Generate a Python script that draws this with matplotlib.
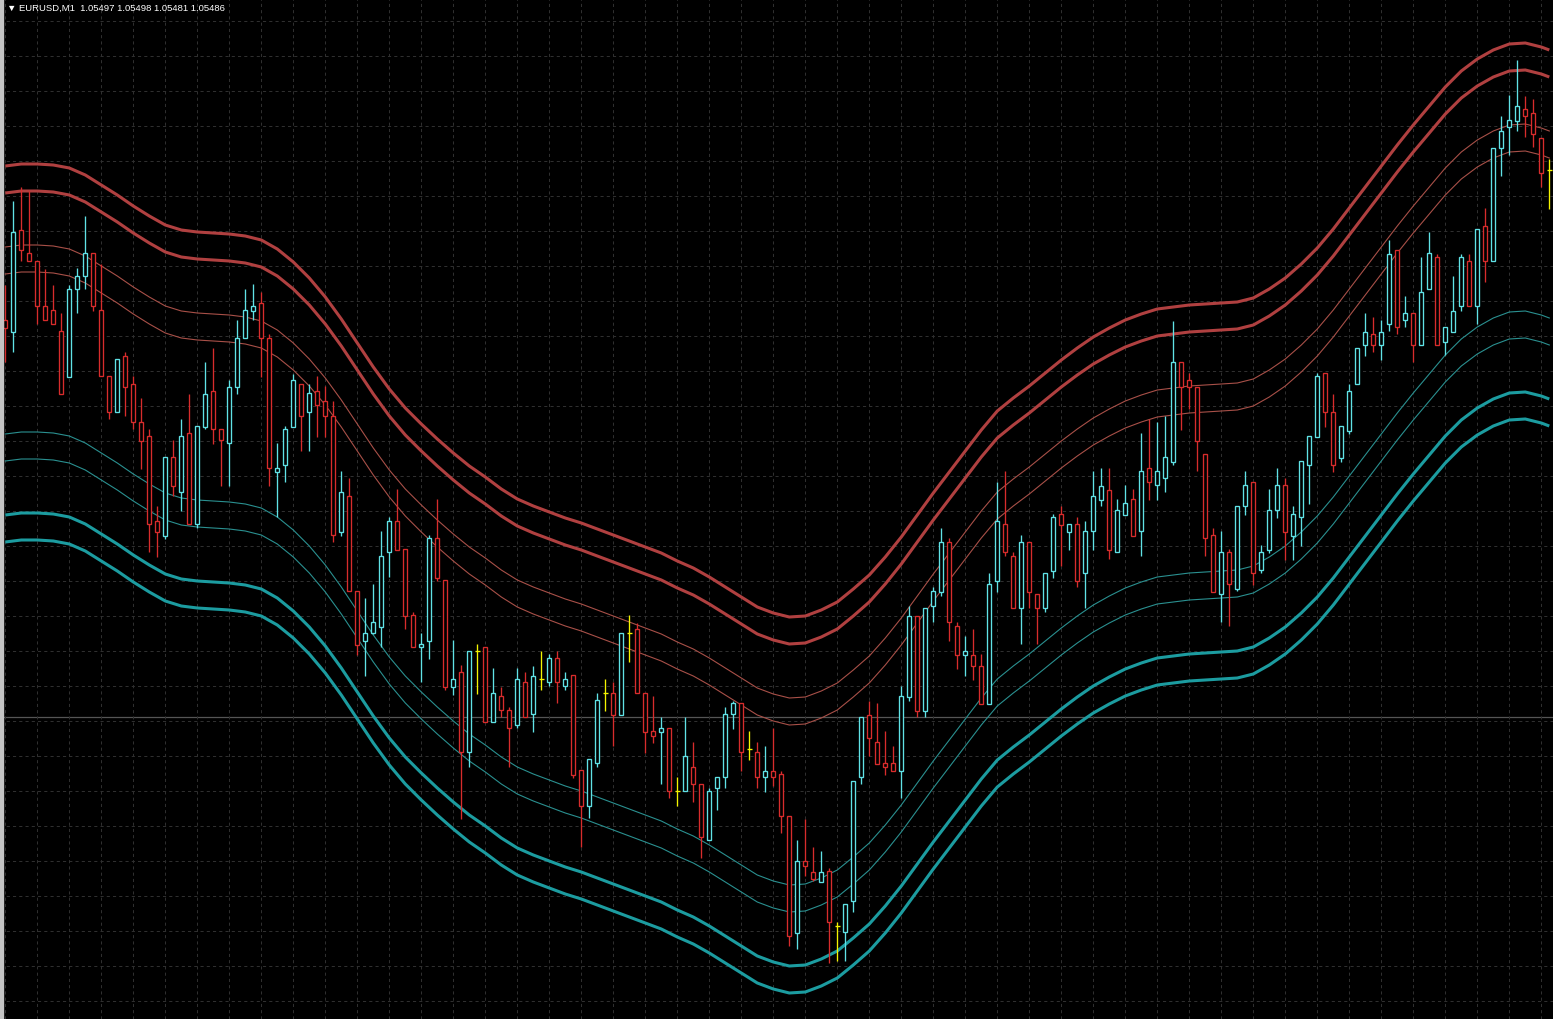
import numpy as np
import matplotlib
matplotlib.use("Agg")
import matplotlib.pyplot as plt
from matplotlib.patches import Rectangle

## EURUSD M1 candles (oldest -> newest)
opens = [1.05679, 1.05667, 1.05769, 1.05746, 1.05738, 1.05693, 1.05689, 1.05668, 1.05622, 1.05710,
         1.05723, 1.05746, 1.05689, 1.05623, 1.05587, 1.05643, 1.05615, 1.05577, 1.05563, 1.05478,
         1.05463, 1.05542, 1.05507, 1.05566, 1.05475, 1.05572, 1.05608, 1.05570, 1.05556, 1.05612,
         1.05661, 1.05688, 1.05696, 1.05661, 1.05527, 1.05534, 1.05572, 1.05615, 1.05587, 1.05608,
         1.05598, 1.05583, 1.05467, 1.05503, 1.05408, 1.05358, 1.05366, 1.05372, 1.05447, 1.05478,
         1.05450, 1.05384, 1.05352, 1.05358, 1.05461, 1.05419, 1.05312, 1.05327, 1.05247, 1.05348,
         1.05352, 1.05277, 1.05303, 1.05289, 1.05274, 1.05317, 1.05285, 1.05320, 1.05317, 1.05341,
         1.05313, 1.05324, 1.05229, 1.05193, 1.05236, 1.05306, 1.05306, 1.05284, 1.05366, 1.05370,
         1.05306, 1.05268, 1.05267, 1.05271, 1.05208, 1.05208, 1.05232, 1.05215, 1.05159, 1.05211,
         1.05222, 1.05285, 1.05296, 1.05250, 1.05247, 1.05222, 1.05228, 1.05225, 1.05183, 1.05066,
         1.05138, 1.05127, 1.05117, 1.05128, 1.05073, 1.05067, 1.05098, 1.05222, 1.05284, 1.05257,
         1.05236, 1.05236, 1.05228, 1.05302, 1.05383, 1.05288, 1.05393, 1.05407, 1.05457, 1.05373,
         1.05344, 1.05344, 1.05333, 1.05295, 1.05418, 1.05475, 1.05443, 1.05391, 1.05457, 1.05405,
         1.05391, 1.05428, 1.05485, 1.05467, 1.05475, 1.05426, 1.05468, 1.05499, 1.05509, 1.05447,
         1.05484, 1.05500, 1.05468, 1.05531, 1.05514, 1.05521, 1.05537, 1.05637, 1.05619, 1.05612,
         1.05545, 1.05464, 1.05405, 1.05447, 1.05410, 1.05493, 1.05517, 1.05429, 1.05449, 1.05489,
         1.05514, 1.05463, 1.05482, 1.05534, 1.05562, 1.05626, 1.05587, 1.05541, 1.05568, 1.05615,
         1.05654, 1.05665, 1.05654, 1.05675, 1.05749, 1.05679, 1.05686, 1.05654, 1.05710, 1.05742,
         1.05657, 1.05667, 1.05693, 1.05738, 1.05693, 1.05773, 1.05738, 1.05851, 1.05872, 1.05878,
         1.05890, 1.05886, 1.05861, 1.05829]

highs = [1.05714, 1.05798, 1.05812, 1.05808, 1.05738, 1.05730, 1.05714, 1.05686, 1.05714, 1.05731,
         1.05783, 1.05746, 1.05735, 1.05623, 1.05640, 1.05647, 1.05623, 1.05601, 1.05570, 1.05493,
         1.05542, 1.05559, 1.05580, 1.05605, 1.05573, 1.05637, 1.05651, 1.05570, 1.05619, 1.05679,
         1.05710, 1.05715, 1.05707, 1.05665, 1.05556, 1.05573, 1.05625, 1.05615, 1.05615, 1.05623,
         1.05613, 1.05598, 1.05528, 1.05521, 1.05408, 1.05401, 1.05415, 1.05468, 1.05482, 1.05510,
         1.05450, 1.05387, 1.05366, 1.05464, 1.05500, 1.05419, 1.05359, 1.05334, 1.05348, 1.05355,
         1.05352, 1.05331, 1.05312, 1.05292, 1.05331, 1.05327, 1.05333, 1.05348, 1.05345, 1.05348,
         1.05327, 1.05324, 1.05229, 1.05240, 1.05306, 1.05320, 1.05317, 1.05366, 1.05384, 1.05376,
         1.05306, 1.05303, 1.05282, 1.05271, 1.05222, 1.05282, 1.05257, 1.05215, 1.05211, 1.05222,
         1.05292, 1.05298, 1.05296, 1.05268, 1.05257, 1.05253, 1.05271, 1.05228, 1.05183, 1.05159,
         1.05180, 1.05152, 1.05148, 1.05131, 1.05077, 1.05095, 1.05218, 1.05282, 1.05298, 1.05296,
         1.05268, 1.05253, 1.05313, 1.05393, 1.05383, 1.05391, 1.05412, 1.05471, 1.05461, 1.05377,
         1.05363, 1.05370, 1.05345, 1.05426, 1.05517, 1.05528, 1.05447, 1.05464, 1.05457, 1.05405,
         1.05426, 1.05485, 1.05493, 1.05475, 1.05482, 1.05478, 1.05528, 1.05531, 1.05531, 1.05500,
         1.05514, 1.05510, 1.05566, 1.05580, 1.05577, 1.05583, 1.05678, 1.05637, 1.05626, 1.05612,
         1.05545, 1.05471, 1.05468, 1.05450, 1.05493, 1.05528, 1.05517, 1.05454, 1.05510, 1.05531,
         1.05521, 1.05493, 1.05538, 1.05563, 1.05626, 1.05626, 1.05605, 1.05573, 1.05615, 1.05651,
         1.05686, 1.05682, 1.05679, 1.05759, 1.05749, 1.05703, 1.05686, 1.05742, 1.05767, 1.05745,
         1.05672, 1.05723, 1.05745, 1.05745, 1.05770, 1.05791, 1.05851, 1.05883, 1.05904, 1.05939,
         1.05903, 1.05900, 1.05861, 1.05840]

lows = [1.05637, 1.05647, 1.05738, 1.05738, 1.05675, 1.05679, 1.05675, 1.05605, 1.05622, 1.05686,
        1.05710, 1.05688, 1.05623, 1.05580, 1.05587, 1.05583, 1.05570, 1.05530, 1.05447, 1.05442,
        1.05460, 1.05503, 1.05488, 1.05475, 1.05471, 1.05570, 1.05555, 1.05513, 1.05513, 1.05605,
        1.05661, 1.05679, 1.05622, 1.05513, 1.05482, 1.05517, 1.05572, 1.05548, 1.05548, 1.05562,
        1.05562, 1.05457, 1.05463, 1.05408, 1.05344, 1.05323, 1.05365, 1.05352, 1.05422, 1.05449,
        1.05370, 1.05352, 1.05317, 1.05340, 1.05418, 1.05309, 1.05304, 1.05180, 1.05232, 1.05305,
        1.05277, 1.05277, 1.05282, 1.05232, 1.05271, 1.05282, 1.05267, 1.05309, 1.05313, 1.05296,
        1.05309, 1.05221, 1.05152, 1.05181, 1.05232, 1.05288, 1.05253, 1.05284, 1.05337, 1.05306,
        1.05246, 1.05256, 1.05215, 1.05201, 1.05193, 1.05208, 1.05197, 1.05141, 1.05159, 1.05189,
        1.05211, 1.05270, 1.05228, 1.05239, 1.05211, 1.05207, 1.05213, 1.05166, 1.05053, 1.05050,
        1.05123, 1.05118, 1.05117, 1.05036, 1.05038, 1.05038, 1.05087, 1.05215, 1.05243, 1.05235,
        1.05224, 1.05228, 1.05201, 1.05298, 1.05282, 1.05282, 1.05377, 1.05403, 1.05358, 1.05330,
        1.05323, 1.05319, 1.05295, 1.05295, 1.05407, 1.05443, 1.05391, 1.05355, 1.05391, 1.05355,
        1.05387, 1.05421, 1.05433, 1.05449, 1.05412, 1.05391, 1.05449, 1.05493, 1.05440, 1.05447,
        1.05484, 1.05463, 1.05443, 1.05499, 1.05499, 1.05507, 1.05534, 1.05569, 1.05590, 1.05528,
        1.05443, 1.05407, 1.05377, 1.05373, 1.05408, 1.05484, 1.05414, 1.05426, 1.05446, 1.05481,
        1.05439, 1.05439, 1.05453, 1.05495, 1.05562, 1.05572, 1.05527, 1.05537, 1.05565, 1.05615,
        1.05643, 1.05647, 1.05639, 1.05668, 1.05665, 1.05672, 1.05637, 1.05654, 1.05710, 1.05654,
        1.05644, 1.05667, 1.05688, 1.05693, 1.05675, 1.05717, 1.05738, 1.05823, 1.05844, 1.05868,
        1.05862, 1.05852, 1.05812, 1.05790]

closes = [1.05671, 1.05767, 1.05749, 1.05738, 1.05693, 1.05679, 1.05675, 1.05605, 1.05710, 1.05723,
          1.05746, 1.05693, 1.05623, 1.05587, 1.05640, 1.05612, 1.05577, 1.05558, 1.05475, 1.05467,
          1.05542, 1.05513, 1.05563, 1.05475, 1.05573, 1.05605, 1.05570, 1.05559, 1.05612, 1.05661,
          1.05689, 1.05693, 1.05661, 1.05531, 1.05531, 1.05570, 1.05619, 1.05583, 1.05606, 1.05594,
          1.05583, 1.05464, 1.05507, 1.05408, 1.05354, 1.05366, 1.05377, 1.05443, 1.05478, 1.05449,
          1.05383, 1.05352, 1.05355, 1.05461, 1.05421, 1.05312, 1.05320, 1.05247, 1.05348, 1.05348,
          1.05277, 1.05306, 1.05289, 1.05271, 1.05320, 1.05282, 1.05323, 1.05320, 1.05341, 1.05317,
          1.05320, 1.05224, 1.05193, 1.05240, 1.05299, 1.05306, 1.05284, 1.05366, 1.05366, 1.05306,
          1.05267, 1.05263, 1.05271, 1.05208, 1.05208, 1.05243, 1.05215, 1.05162, 1.05208, 1.05222,
          1.05285, 1.05296, 1.05247, 1.05250, 1.05222, 1.05228, 1.05222, 1.05183, 1.05063, 1.05138,
          1.05133, 1.05120, 1.05127, 1.05077, 1.05073, 1.05095, 1.05218, 1.05282, 1.05261, 1.05235,
          1.05232, 1.05228, 1.05303, 1.05383, 1.05288, 1.05391, 1.05408, 1.05457, 1.05377, 1.05344,
          1.05348, 1.05333, 1.05295, 1.05415, 1.05478, 1.05447, 1.05391, 1.05457, 1.05407, 1.05391,
          1.05426, 1.05482, 1.05474, 1.05475, 1.05418, 1.05468, 1.05503, 1.05513, 1.05449, 1.05489,
          1.05496, 1.05463, 1.05528, 1.05517, 1.05528, 1.05542, 1.05637, 1.05612, 1.05612, 1.05558,
          1.05461, 1.05407, 1.05447, 1.05415, 1.05493, 1.05514, 1.05426, 1.05447, 1.05489, 1.05514,
          1.05467, 1.05485, 1.05538, 1.05563, 1.05623, 1.05587, 1.05534, 1.05573, 1.05608, 1.05651,
          1.05667, 1.05654, 1.05667, 1.05745, 1.05672, 1.05686, 1.05654, 1.05707, 1.05746, 1.05654,
          1.05672, 1.05688, 1.05742, 1.05693, 1.05770, 1.05738, 1.05851, 1.05868, 1.05879, 1.05893,
          1.05883, 1.05865, 1.05826, 1.05829]

## smoothed band centre, read every 2nd bar (+ last bar)
band_idx = list(range(0, 193, 2)) + [193]
band_mid = [1.05645, 1.05647, 1.05647, 1.05646, 1.05643, 1.05636, 1.05626, 1.05616, 1.05605, 1.05595,
            1.05586, 1.05581, 1.05579, 1.05578, 1.05577, 1.05575, 1.05571, 1.05562, 1.05549, 1.05533,
            1.05514, 1.05492, 1.05468, 1.05444, 1.05422, 1.05403, 1.05387, 1.05372, 1.05358, 1.05345,
            1.05334, 1.05322, 1.05312, 1.05305, 1.05299, 1.05293, 1.05288, 1.05282, 1.05276, 1.05270,
            1.05264, 1.05258, 1.05250, 1.05243, 1.05234, 1.05224, 1.05214, 1.05204, 1.05198, 1.05194,
            1.05195, 1.05201, 1.05209, 1.05222, 1.05236, 1.05254, 1.05274, 1.05296, 1.05318, 1.05339,
            1.05360, 1.05381, 1.05400, 1.05413, 1.05425, 1.05438, 1.05451, 1.05463, 1.05474, 1.05483,
            1.05491, 1.05497, 1.05502, 1.05504, 1.05506, 1.05507, 1.05508, 1.05509, 1.05513, 1.05522,
            1.05533, 1.05547, 1.05563, 1.05582, 1.05603, 1.05624, 1.05645, 1.05666, 1.05686, 1.05705,
            1.05724, 1.05740, 1.05752, 1.05761, 1.05767, 1.05768, 1.05764, 1.05761]
band_outer = [0.00188, 0.00161]   # thick lines
band_inner = [0.00107, 0.00080]   # thin lines

header = "\u25bc EURUSD,M1  1.05497 1.05498 1.05481 1.05486"

bull_col = '#60e2e6'
bear_col = '#d82c2c'
doji_col = '#f4f400'

W, H = 1553, 1020
fig = plt.figure(figsize=(W / 100, H / 100), dpi=100, facecolor='black')
ax = fig.add_axes([0, 0, 1, 1])
ax.set_facecolor('black')

# bar k sits at pixel 5.3 + 8k
ax.set_xlim(-5.3 / 8, (W - 5.3) / 8)
ax.set_ylim(1.0600 - H * 1e-5, 1.0600)

ax.set_xticks(np.arange(0, 194, 4))
ax.set_yticks(1.0600 - (21.7 + 35 * np.arange(29)) * 1e-5)
ax.grid(True, color='#2f2f2f', linestyle=(0, (3, 3)), linewidth=0.75)
ax.tick_params(length=0, labelbottom=False, labelleft=False)
for s in ax.spines.values():
    s.set_visible(False)

ax.axhline(1.05282, color='#555555', lw=0.9, zorder=1)

## bands
mid = np.array(band_mid)
for off in band_outer:
    ax.plot(band_idx, mid + off, color='#b04040', lw=2.2, zorder=2, solid_capstyle='butt')
    ax.plot(band_idx, mid - off, color='#1c9ca0', lw=2.2, zorder=2, solid_capstyle='butt')
for off in band_inner:
    ax.plot(band_idx, mid + off, color='#a85048', lw=0.8, zorder=2)
    ax.plot(band_idx, mid - off, color='#2a9090', lw=0.8, zorder=2)

## candles (hollow bodies)
lw_c = 0.95
for k in range(len(opens)):
    o, h, l, c = opens[k], highs[k], lows[k], closes[k]
    top, bot = max(o, c), min(o, c)
    if c > o:
        col = bull_col
    elif c < o:
        col = bear_col
    else:
        col = doji_col
    if h > top:
        ax.vlines(k, top, h, color=col, lw=lw_c, zorder=3)
    if l < bot:
        ax.vlines(k, l, bot, color=col, lw=lw_c, zorder=3)
    if c == o:
        ax.hlines(o, k - 0.3, k + 0.3, color=col, lw=lw_c, zorder=3)
    else:
        ax.add_patch(Rectangle((k - 0.27, bot), 0.54, top - bot, fill=True,
                               facecolor='black', edgecolor=col, lw=lw_c, zorder=3))

## window frame + header
fig.patches.append(Rectangle((0, 0), 3 / W, 1, transform=fig.transFigure,
                             color='#c4c4c4', zorder=10))
fig.text(7 / W, 1 - 8.5 / H, header, color='white', fontsize=6.8,
         family=['Liberation Sans', 'DejaVu Sans'], va='center', ha='left')

fig.savefig('out.png', dpi=100, facecolor='black')
